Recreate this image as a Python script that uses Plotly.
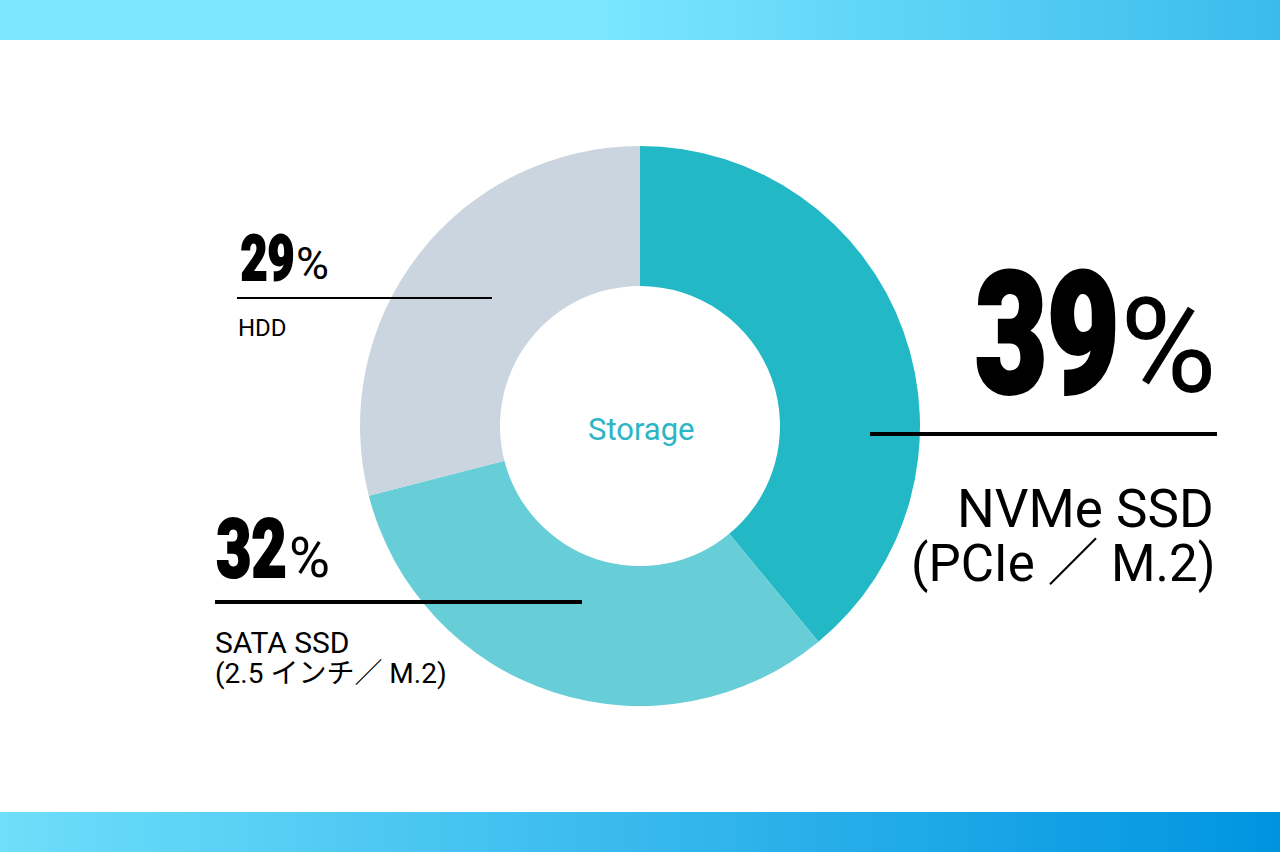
import plotly.graph_objects as go

W, H = 1280, 852

categories = ["NVMe SSD", "SATA SSD", "HDD"]
values = [39, 32, 29]
pct_labels = ["39", "32", "29"]
colors = ["#23B8C6", "#67CED8", "#CAD5DF"]
center_text = "Storage"

def px(x):
    return x / W

def py(y):
    return 1 - y / H

fig = go.Figure()
fig.add_trace(go.Pie(
    labels=categories, values=values, sort=False, direction="clockwise",
    rotation=0, hole=0.5, marker=dict(colors=colors, line=dict(width=0)),
    textinfo="none", hoverinfo="label+percent", showlegend=False,
    domain=dict(x=[px(360), px(920)], y=[py(706), py(146)]),
))

shapes = []

def lerp(c1, c2, t):
    return tuple(round(a + (b - a) * t) for a, b in zip(c1, c2))

N = 128
for i in range(N):
    x0 = i * W / N
    x1 = (i + 1) * W / N + 0.5
    t = (i + 0.5) / N
    if t < 0.47:
        ct = (122, 230, 255)
    else:
        ct = lerp((122, 230, 255), (58, 187, 236), (t - 0.47) / 0.53)
    cb = lerp((110, 222, 250), (0, 148, 224), t)
    shapes.append(dict(type="rect", xref="paper", yref="paper", x0=px(x0), x1=px(x1),
                       y0=py(40), y1=1, fillcolor="rgb(%d,%d,%d)" % ct, line=dict(width=0), layer="below"))
    shapes.append(dict(type="rect", xref="paper", yref="paper", x0=px(x0), x1=px(x1),
                       y0=0, y1=py(812), fillcolor="rgb(%d,%d,%d)" % cb, line=dict(width=0), layer="below"))

for (x0, x1, y, w) in [(237, 492, 298, 2), (215, 582, 602, 4), (870, 1217, 434, 4)]:
    shapes.append(dict(type="line", xref="paper", yref="paper", x0=px(x0), x1=px(x1),
                       y0=py(y), y1=py(y), line=dict(color="#000000", width=w), layer="above"))

NUMFONT = "Roboto, DejaVu Sans, sans-serif"
LBLFONT = "Roboto, Noto Sans CJK JP, sans-serif"

annotations = [
    # big digits (indices 0-2, condensed by script below)
    dict(text=pct_labels[0], x=px(1047), y=py(334), xanchor="center", yanchor="middle",
         font=dict(family=NUMFONT, size=168, color="#000000", weight=900)),
    dict(text=pct_labels[1], x=px(251), y=py(549), xanchor="center", yanchor="middle",
         font=dict(family=NUMFONT, size=82, color="#000000", weight=900)),
    dict(text=pct_labels[2], x=px(267), y=py(258), xanchor="center", yanchor="middle",
         font=dict(family=NUMFONT, size=63, color="#000000", weight=900)),
    # percent signs
    dict(text="%", x=px(1118), y=py(347), xanchor="left", yanchor="middle",
         font=dict(family=NUMFONT, size=132, color="#000000")),
    dict(text="%", x=px(287), y=py(558), xanchor="left", yanchor="middle",
         font=dict(family=NUMFONT, size=56, color="#000000")),
    dict(text="%", x=px(294), y=py(263), xanchor="left", yanchor="middle",
         font=dict(family=NUMFONT, size=45, color="#000000")),
    # labels
    dict(text="NVMe SSD", x=px(1216), y=py(509), xanchor="right", yanchor="middle",
         font=dict(family=LBLFONT, size=53, color="#000000")),
    dict(text="(PCIe ／ M.2)", x=px(1217), y=py(563), xanchor="right", yanchor="middle",
         font=dict(family=LBLFONT, size=51, color="#000000")),
    dict(text="SATA SSD", x=px(213), y=py(642), xanchor="left", yanchor="middle",
         font=dict(family=LBLFONT, size=30, color="#000000")),
    dict(text="(2.5 インチ／ M.2)", x=px(213), y=py(673), xanchor="left", yanchor="middle",
         font=dict(family=LBLFONT, size=28, color="#000000")),
    dict(text="HDD", x=px(236), y=py(328), xanchor="left", yanchor="middle",
         font=dict(family=LBLFONT, size=24, color="#000000")),
    dict(text=center_text, x=px(641), y=py(429), xanchor="center", yanchor="middle",
         font=dict(family=LBLFONT, size=31, color="#2BB5C5")),
]
for a in annotations:
    a.update(xref="paper", yref="paper", showarrow=False)

fig.update_layout(
    width=W, height=H, margin=dict(l=0, r=0, t=0, b=0),
    paper_bgcolor="#FFFFFF", plot_bgcolor="#FFFFFF",
    shapes=shapes, annotations=annotations,
)

post = """
document.body.style.margin = '0';
document.body.style.overflow = 'hidden';
var gd = document.getElementById('{plot_id}');
var strokes = {0: 4, 1: 2.2, 2: 1.8};
[0, 1, 2].forEach(function (i) {
  var g = gd.querySelector('g.annotation[data-index="' + i + '"]');
  if (!g) return;
  var t = g.querySelector('text.annotation-text');
  if (!t) return;
  t.style.transformBox = 'fill-box';
  t.style.transformOrigin = 'center center';
  t.style.transform = 'scaleX(0.74)';
  t.style.stroke = '#000';
  t.style.strokeWidth = strokes[i] + 'px';
  t.style.strokeLinejoin = 'miter';
});
"""

fig.write_html("out.html", config={"displayModeBar": False}, post_script=post)
